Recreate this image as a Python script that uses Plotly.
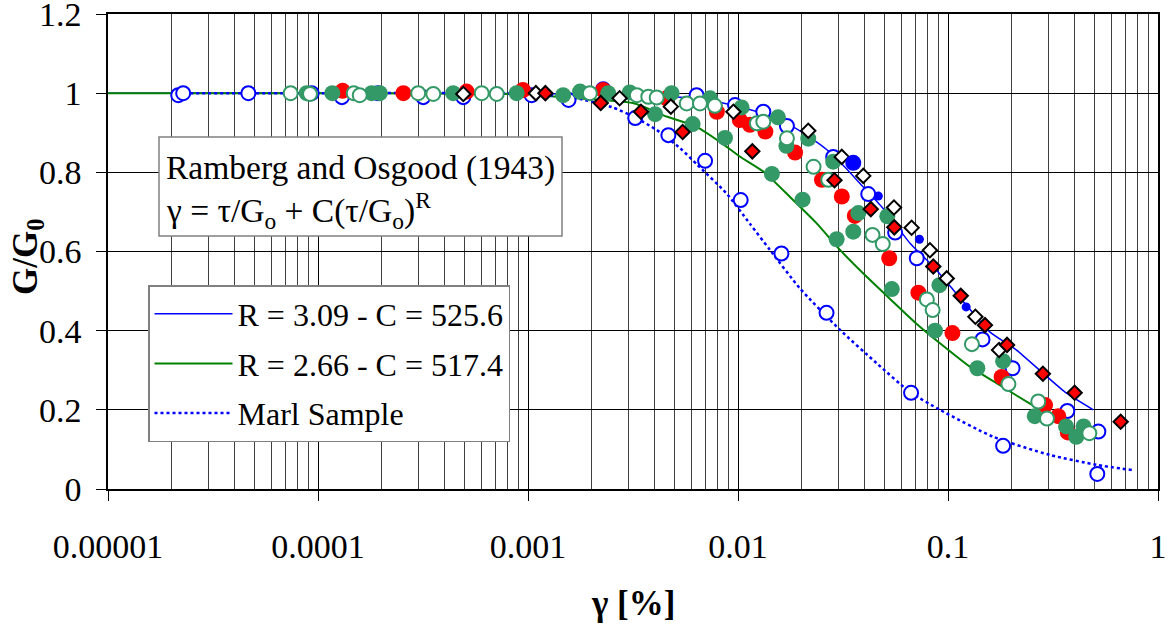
import plotly.graph_objects as go

# ---------------- data ----------------
x_tick_vals = [0.00001, 0.0001, 0.001, 0.01, 0.1, 1]
x_tick_text = ["0.00001", "0.0001", "0.001", "0.01", "0.1", "1"]
y_tick_vals = [0, 0.2, 0.4, 0.6, 0.8, 1.0, 1.2]
y_tick_text = ["0", "0.2", "0.4", "0.6", "0.8", "1", "1.2"]

# Ramberg-Osgood fit R = 3.09, C = 525.6 (blue solid)
blue_x = [1e-5, 1e-4, 0.001, 0.0034, 0.0066, 0.0102, 0.0137, 0.0183, 0.0229, 0.0265,
          0.0306, 0.0381, 0.0483, 0.059, 0.0659, 0.0851, 0.106, 0.132, 0.158, 0.212,
          0.284, 0.367, 0.492]
blue_y = [1.0, 1.0, 0.999, 0.995, 0.985, 0.965, 0.945, 0.915, 0.882, 0.857,
          0.826, 0.772, 0.713, 0.654, 0.621, 0.562, 0.503, 0.444, 0.397, 0.351,
          0.292, 0.242, 0.2]

# Ramberg-Osgood fit R = 2.66, C = 517.4 (green solid)
green_x = [1e-5, 1e-4, 0.001, 0.00142, 0.00316, 0.00457, 0.00635, 0.0082, 0.0102,
           0.0132, 0.0183, 0.0237, 0.0306, 0.041, 0.055, 0.071, 0.0916, 0.127, 0.171,
           0.259, 0.426]
green_y = [1.0, 1.0, 0.997, 0.99, 0.975, 0.941, 0.915, 0.877, 0.84,
           0.802, 0.73, 0.671, 0.604, 0.536, 0.472, 0.417, 0.368, 0.309, 0.267,
           0.208, 0.141]

# Marl sample curve (blue dotted)
marl_x = [2.3e-5, 1e-4, 5e-4, 0.001, 0.0016, 0.0025, 0.0032, 0.0041, 0.0053, 0.0064,
          0.0088, 0.0114, 0.0142, 0.0197, 0.0306, 0.0457, 0.0659, 0.0916, 0.164,
          0.306, 0.51, 0.75]
marl_y = [1.0, 1.0, 1.0, 0.998, 0.99, 0.965, 0.94, 0.907, 0.861, 0.819,
          0.747, 0.67, 0.604, 0.507, 0.402, 0.318, 0.245, 0.2, 0.132,
          0.086, 0.061, 0.048]

# open blue circles
blue_open_x = [2.16e-5, 2.28e-5, 4.66e-5, 9.33e-5, 1.30e-4, 1.93e-4, 3.17e-4, 4.92e-4,
               1.04e-3, 1.56e-3, 2.28e-3, 3.24e-3, 4.66e-3, 6.35e-3, 6.97e-3, 9.68e-3,
               0.0103, 0.0132, 0.0161, 0.0171, 0.0264, 0.0284, 0.0417, 0.056, 0.0667,
               0.071, 0.146, 0.183, 0.203, 0.37, 0.514, 0.52]
blue_open_y = [0.995, 1.0, 1.0, 1.0, 0.99, 1.0, 0.99, 0.99,
               0.995, 0.983, 1.01, 0.937, 0.894, 0.995, 0.829, 0.970,
               0.730, 0.953, 0.595, 0.917, 0.445, 0.839, 0.745, 0.648, 0.243,
               0.583, 0.378, 0.109, 0.305, 0.197, 0.038, 0.145]

# filled red circles
red_x = [1.31e-4, 2.55e-4, 5.1e-4, 9.46e-4, 2.28e-3, 4.57e-3, 7.93e-3, 0.0102, 0.0114,
         0.0135, 0.0187, 0.0251, 0.0312, 0.036, 0.0525, 0.0723, 0.105, 0.18, 0.29,
         0.335, 0.372]
red_y = [1.006, 1.0, 1.004, 1.008, 1.008, 0.987, 0.953, 0.932, 0.920,
         0.903, 0.850, 0.781, 0.739, 0.690, 0.583, 0.496, 0.394, 0.283, 0.212,
         0.184, 0.143]

# filled green circles
green_f_x = [8.83e-5, 1.17e-4, 1.8e-4, 1.97e-4, 4.4e-4, 8.83e-4, 1.47e-3, 1.77e-3,
             2.41e-3, 3.05e-3, 4.03e-3, 4.83e-3, 6.08e-3, 7.36e-3, 8.67e-3, 0.0104,
             0.0145, 0.0155, 0.017, 0.0203, 0.0216, 0.0284, 0.0295, 0.0354, 0.0374,
             0.0514, 0.054, 0.0867, 0.091, 0.138, 0.183, 0.259, 0.365, 0.408, 0.442]
green_f_y = [1.0, 1.0, 1.0, 1.0, 1.0, 1.0, 0.995, 1.004,
             1.0, 1.002, 0.947, 1.0, 0.922, 0.987, 0.887, 0.964,
             0.796, 0.939, 0.867, 0.731, 0.885, 0.827, 0.631, 0.650, 0.697,
             0.689, 0.505, 0.400, 0.515, 0.305, 0.323, 0.184, 0.158, 0.132, 0.158]

# open green circles
green_o_x = [7.41e-5, 9.16e-5, 1.48e-4, 1.58e-4, 3.0e-4, 3.54e-4, 6.02e-4, 7.1e-4,
             1.97e-3, 3.3e-3, 3.74e-3, 4.1e-3, 5.7e-3, 6.59e-3, 7.76e-3, 0.0123,
             0.0132, 0.0171, 0.0229, 0.0269, 0.0437, 0.0489, 0.0793, 0.0845, 0.13,
             0.194, 0.269, 0.296, 0.471]
green_o_y = [1.0, 0.998, 1.0, 0.995, 1.0, 0.998, 1.0, 0.998,
             1.0, 0.995, 0.991, 0.989, 0.974, 0.974, 0.968, 0.924,
             0.928, 0.886, 0.814, 0.781, 0.642, 0.619, 0.479, 0.452, 0.366,
             0.265, 0.221, 0.178, 0.141]

# red diamonds (black border)
red_d_x = [1.21e-3, 2.22e-3, 3.45e-3, 5.45e-3, 0.0117, 0.0288, 0.0429, 0.0555, 0.0851,
           0.115, 0.15, 0.191, 0.283, 0.401, 0.664]
red_d_y = [1.0, 0.975, 0.953, 0.902, 0.853, 0.780, 0.707, 0.661, 0.562,
           0.488, 0.414, 0.364, 0.291, 0.243, 0.170]

# open diamonds (black border)
open_d_x = [4.92e-4, 1.09e-3, 2.73e-3, 4.79e-3, 9.51e-3, 0.0216, 0.0312, 0.0395, 0.0553,
            0.0671, 0.082, 0.0986, 0.135, 0.175]
open_d_y = [0.998, 1.0, 0.987, 0.966, 0.953, 0.905, 0.839, 0.791, 0.711,
            0.660, 0.603, 0.532, 0.435, 0.351]

# filled blue circles
blue_small_x = [0.0466, 0.0731, 0.122]
blue_small_y = [0.740, 0.631, 0.46]
blue_big_x = [0.0354]
blue_big_y = [0.824]

legend_names = ["R = 3.09 - C = 525.6", "R = 2.66 - C = 517.4", "Marl Sample"]

# ---------------- figure ----------------
SEA = "#339966"
FONT = "Liberation Serif"

fig = go.Figure()

fig.add_trace(go.Scatter(x=blue_x, y=blue_y, mode="lines", name=legend_names[0],
                         line=dict(color="#0000FF", width=1.5, shape="spline", smoothing=0.6),
                         legendgroup="a"))
fig.add_trace(go.Scatter(x=green_x, y=green_y, mode="lines", name=legend_names[1],
                         line=dict(color="#008000", width=2, shape="spline", smoothing=0.6),
                         legendgroup="b"))
fig.add_trace(go.Scatter(x=marl_x, y=marl_y, mode="lines", name=legend_names[2],
                         line=dict(color="#0000FF", width=2.5, dash="dot", shape="spline",
                                   smoothing=0.6),
                         legendgroup="c"))

def pts(x, y, symbol, size, fill, lcolor, lwidth):
    fig.add_trace(go.Scatter(x=x, y=y, mode="markers", showlegend=False, hoverinfo="skip",
                             marker=dict(symbol=symbol, size=size, color=fill,
                                         line=dict(color=lcolor, width=lwidth))))

pts(blue_open_x, blue_open_y, "circle", 14, "white", "#0000FF", 2)
pts(red_x, red_y, "circle", 16, "#FF0000", "#FF0000", 0)
pts(green_f_x, green_f_y, "circle", 16, SEA, SEA, 0)
pts(green_o_x, green_o_y, "circle", 14, "white", SEA, 2)
pts(open_d_x, open_d_y, "diamond", 11, "white", "black", 2)
pts(red_d_x, red_d_y, "diamond", 11, "#FF0000", "black", 2)
pts(blue_small_x, blue_small_y, "circle", 9, "#0000FF", "#0000FF", 0)
pts(blue_big_x, blue_big_y, "circle", 16, "#0000FF", "#0000FF", 0)

W, H = 1168, 625
L, R, T, B = 108, 10, 14, 136
pw, ph = W - L - R, H - T - B

def px(xp):
    return (xp - L) / pw

def py(yp):
    return (H - B - yp) / ph

fig.update_layout(
    template="none",
    width=W, height=H,
    margin=dict(l=L, r=R, t=T, b=B, autoexpand=False),
    plot_bgcolor="white", paper_bgcolor="white",
    font=dict(family=FONT, size=34, color="black"),
    showlegend=True,
    legend=dict(x=px(148), y=py(285), xanchor="left", yanchor="top",
                bgcolor="white", bordercolor="#808080", borderwidth=1.5,
                font=dict(family=FONT, size=32, color="black"),
                tracegroupgap=5, itemwidth=78, traceorder="grouped"),
)

fig.update_xaxes(
    type="log", range=[-5, 0], automargin=False,
    tickmode="array", tickvals=x_tick_vals, ticktext=x_tick_text,
    showgrid=True, gridcolor="black", gridwidth=1,
    minor=dict(dtick="D1", showgrid=True, gridcolor="#404040", gridwidth=1, ticks=""),
    ticks="outside", ticklen=10, tickcolor="black",
    showline=True, linecolor="black", linewidth=1.5, mirror=True,
    zeroline=False, ticklabelstandoff=16, ticklabeloverflow="allow",
    tickfont=dict(family=FONT, size=34),
)
fig.update_yaxes(
    range=[0, 1.2000001], automargin=False,
    tickmode="array", tickvals=y_tick_vals, ticktext=y_tick_text,
    showgrid=True, gridcolor="black", gridwidth=1,
    ticks="outside", ticklen=10, tickcolor="black",
    showline=True, linecolor="black", linewidth=1.5, mirror=True,
    zeroline=False, ticklabelstandoff=8, ticklabeloverflow="allow",
    tickfont=dict(family=FONT, size=34),
)

# Ramberg-Osgood text box
fig.add_shape(type="rect", xref="paper", yref="paper",
              x0=px(159), x1=px(562), y0=py(236), y1=py(137),
              line=dict(color="#808080", width=1.5), fillcolor="white", layer="above")
fig.add_annotation(xref="paper", yref="paper", x=px(164), y=py(168),
                   xanchor="left", yanchor="middle", showarrow=False,
                   text="Ramberg and Osgood (1943)",
                   font=dict(family=FONT, size=33.5, color="black"))
fig.add_annotation(xref="paper", yref="paper", x=px(164), y=py(210),
                   xanchor="left", yanchor="middle", showarrow=False,
                   text="γ = τ/G<sub>o</sub> + C(τ/G<sub>o</sub>)<sup>R</sup>",
                   font=dict(family=FONT, size=33.5, color="black"))

# axis titles
fig.add_annotation(xref="paper", yref="paper", x=px(633), y=py(603),
                   xanchor="center", yanchor="middle", showarrow=False,
                   text="<b>γ [%]</b>", font=dict(family=FONT, size=35, color="black"))
fig.add_annotation(xref="paper", yref="paper", x=px(27), y=py(257),
                   xanchor="center", yanchor="middle", showarrow=False, textangle=-90,
                   text="<b>G/G<sub>0</sub></b>", font=dict(family=FONT, size=35, color="black"))

# remove the browser's default page margin so the figure sits at the window's top-left
fig.write_html("out.html", config={"displayModeBar": False},
               post_script="document.body.style.margin='0';")
